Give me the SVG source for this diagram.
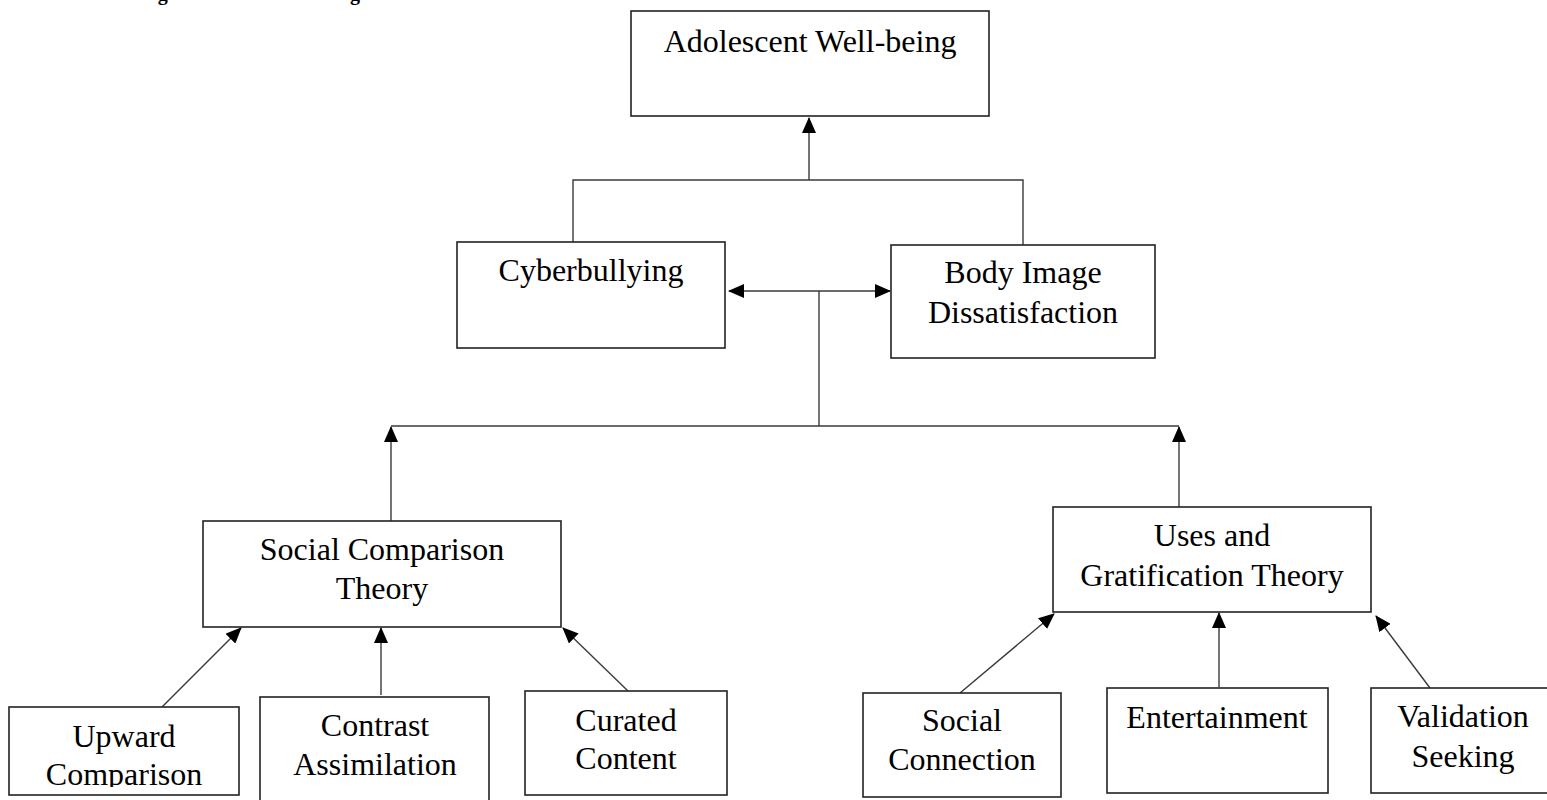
<svg xmlns="http://www.w3.org/2000/svg" width="1547" height="800" viewBox="0 0 1547 800">
<style>
.box{fill:#fff;stroke:#222;stroke-width:1.6}
.lbl{font-family:"Liberation Serif","Times New Roman",serif;font-size:32px;fill:#000;text-anchor:middle}
.ttl{font-family:"Liberation Serif","Times New Roman",serif;font-size:20px;font-weight:bold;fill:#000}
.con{fill:none;stroke:#3a3a3a;stroke-width:1.4}
</style>
<defs>
<marker id="ah" viewBox="0 0 16 14" refX="15" refY="7" markerWidth="16" markerHeight="14" markerUnits="userSpaceOnUse" orient="auto-start-reverse">
<path d="M0,0 L16,7 L0,14 z" fill="#000"/>
</marker>
<clipPath id="clipUp"><rect x="9" y="707" width="230" height="80"/></clipPath>
</defs>
<rect width="1547" height="800" fill="#fff"/>
<text class="ttl" x="140" y="0">Figure 1. Theoretical diagram</text>

<g id="connectors">
<polyline class="con" points="809,180 809,118" marker-end="url(#ah)"/>
<polyline class="con" points="573,242 573,180 1023,180 1023,245"/>
<line class="con" x1="729" y1="291" x2="890" y2="291" marker-start="url(#ah)" marker-end="url(#ah)"/>
<polyline class="con" points="819,291 819,426"/>
<polyline class="con" points="391,426 1179,426"/>
<line class="con" x1="391" y1="521" x2="391" y2="427" marker-end="url(#ah)"/>
<line class="con" x1="1179" y1="507" x2="1179" y2="427" marker-end="url(#ah)"/>
<line class="con" x1="162" y1="707" x2="241" y2="628" marker-end="url(#ah)"/>
<line class="con" x1="381" y1="695" x2="381" y2="628" marker-end="url(#ah)"/>
<line class="con" x1="628" y1="691" x2="563" y2="628" marker-end="url(#ah)"/>
<line class="con" x1="960" y1="693" x2="1054" y2="614" marker-end="url(#ah)"/>
<line class="con" x1="1219" y1="687" x2="1219" y2="613" marker-end="url(#ah)"/>
<line class="con" x1="1430" y1="688" x2="1376" y2="616" marker-end="url(#ah)"/>
</g>

<g id="adolescent-well-being">
<rect class="box" x="631" y="11" width="358" height="105"/>
<text class="lbl" x="810" y="52">Adolescent Well-being</text>
</g>
<g id="cyberbullying">
<rect class="box" x="457" y="242" width="268" height="106"/>
<text class="lbl" x="591" y="281">Cyberbullying</text>
</g>
<g id="body-image">
<rect class="box" x="891" y="245" width="264" height="113"/>
<text class="lbl" x="1023" y="283">Body Image</text>
<text class="lbl" x="1023" y="323">Dissatisfaction</text>
</g>
<g id="social-comparison-theory">
<rect class="box" x="203" y="521" width="358" height="106"/>
<text class="lbl" x="382" y="560">Social Comparison</text>
<text class="lbl" x="382" y="599">Theory</text>
</g>
<g id="uses-gratification-theory">
<rect class="box" x="1053" y="507" width="318" height="105"/>
<text class="lbl" x="1212" y="546">Uses and</text>
<text class="lbl" x="1212" y="586">Gratification Theory</text>
</g>
<g id="upward-comparison">
<rect class="box" x="9" y="707" width="230" height="88"/>
<text class="lbl" x="124" y="747">Upward</text>
<text class="lbl" x="124" y="785" clip-path="url(#clipUp)">Comparison</text>
</g>
<g id="contrast-assimilation">
<rect class="box" x="260" y="697" width="229" height="110"/>
<text class="lbl" x="375" y="736">Contrast</text>
<text class="lbl" x="375" y="775">Assimilation</text>
</g>
<g id="curated-content">
<rect class="box" x="525" y="691" width="202" height="104"/>
<text class="lbl" x="626" y="731">Curated</text>
<text class="lbl" x="626" y="769">Content</text>
</g>
<g id="social-connection">
<rect class="box" x="863" y="693" width="198" height="104"/>
<text class="lbl" x="962" y="731">Social</text>
<text class="lbl" x="962" y="770">Connection</text>
</g>
<g id="entertainment">
<rect class="box" x="1107" y="688" width="221" height="105"/>
<text class="lbl" x="1217" y="728">Entertainment</text>
</g>
<g id="validation-seeking">
<rect class="box" x="1371" y="688" width="190" height="105"/>
<text class="lbl" x="1463" y="727">Validation</text>
<text class="lbl" x="1463" y="767">Seeking</text>
</g>
</svg>
